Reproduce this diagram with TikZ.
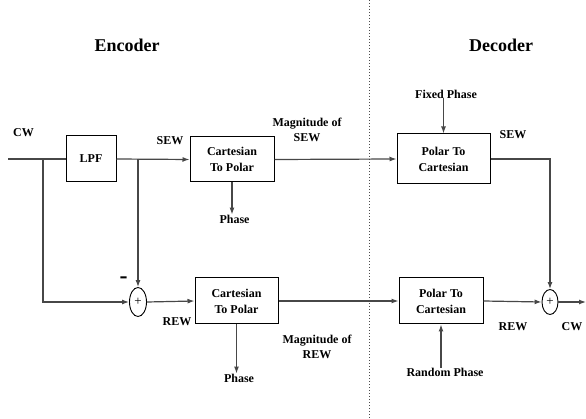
\documentclass[tikz,border=0pt]{standalone}
\usepackage{fontspec}
\setmainfont{Liberation Serif}
\usetikzlibrary{shapes.geometric,arrows.meta}

\begin{document}
\begin{tikzpicture}[x=1pt,y=-1pt,>={Latex[length=7pt,width=5pt]},
	blk/.style={draw,line width=1pt,font=\bfseries\fontsize{12}{16}\selectfont,align=center,inner sep=0pt},
	lbl/.style={font=\bfseries\fontsize{12}{15}\selectfont,align=center,inner sep=0pt},
	sum/.style={draw,ellipse,line width=0.9pt,minimum width=17pt,minimum height=29pt,inner sep=0pt,font=\fontsize{13}{13}\selectfont},
	wire/.style={line width=1.2pt,color=black!72}]

\useasboundingbox (0,0) rectangle (586,419);

% encoder / decoder split
\draw[dotted,line width=1pt,color=black!70] (369,0) -- (369,419);
\node[lbl,font=\bfseries\fontsize{18}{20}\selectfont] (enc) at (127,45) {Encoder};
\node[lbl,font=\bfseries\fontsize{18}{20}\selectfont] (dec) at (501,45) {Decoder};

\begin{scope}
	\node[blk,minimum width=50pt,minimum height=46pt] (lpf) at (91,159) {LPF};
	\node[blk,minimum width=84pt,minimum height=45pt] (c2p) at (232,159.5) {Cartesian\\To Polar};
	\node[blk,minimum width=83pt,minimum height=46pt] (c2p2) at (236.5,301) {Cartesian\\To Polar};
	\node[sum] (s) at (138,302) {+};

	\coordinate (in) at (8,159);
	\coordinate (b1) at (43,159);
	\coordinate (b2) at (138,159);

	\node[lbl] (cw) at (23.5,133) {CW};
	\node[lbl] (sew) at (170,141) {SEW};
	\node[lbl] (rew) at (177,322) {REW};
	\node[lbl,font=\bfseries\fontsize{24}{24}\selectfont] (minus) at (123.5,280) {-};
	\node[lbl] (ph) at (234.5,219) {Phase};
	\node[lbl] (ph2) at (239,378) {Phase};
	\node[lbl] (mag) at (307,130) {Magnitude of\\SEW};
	\node[lbl] (mag2) at (317,347) {Magnitude of\\REW};
\end{scope}

\begin{scope}
	\node[blk,minimum width=93pt,minimum height=50pt] (p2c) at (443.5,159) {Polar To\\Cartesian};
	\node[blk,minimum width=84pt,minimum height=46pt] (p2c2) at (441,301) {Polar To\\Cartesian};
	\node[sum,minimum width=16pt,minimum height=25pt] (s2) at (550,302) {+};
	\coordinate (out) at (586,302);

	\node[lbl] (fix) at (446,94) {Fixed Phase};
	\node[lbl] (rnd) at (445,372) {Random Phase};
	\node[lbl] (sew2) at (513,135) {SEW};
	\node[lbl] (rew2) at (513,327) {REW};
	\node[lbl] (cw2) at (572,327) {CW};
\end{scope}

\draw[wire] (in) -- (lpf.west);
\draw[wire,->] (b1) |- (s.west);
\draw[wire,->] (lpf.east) -- (c2p.west);
\draw[wire,->] (b2) -- (s.north);
\draw[wire,->] (s.east) -- (c2p2.west);
\draw[wire,->] (c2p.south) -- (c2p.south |- ph.north);
\draw[wire,->] (c2p2.south) -- (c2p2.south |- ph2.north);
\draw[wire,->] (c2p.east) -- (p2c.west);
\draw[wire,->] (c2p2.east) -- (p2c2.west);
\draw[wire,->] (p2c.north |- fix.south) -- (p2c.north);
\draw[wire,->] (p2c2.south |- rnd.north) -- (p2c2.south);
\draw[wire,->] (p2c.east) -| (s2.north);
\draw[wire,->] (p2c2.east) -- (s2.west);
\draw[wire,->] (s2.east) -- (out);

\end{tikzpicture}
\end{document}
